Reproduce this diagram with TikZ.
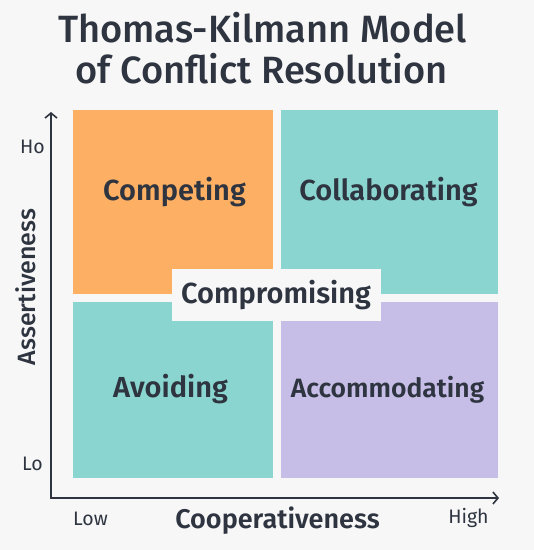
\documentclass[tikz,border=0pt]{standalone}
\usepackage{fontspec}
\setmainfont{Fira Sans}
\newfontfamily\medfont{Fira Sans Medium}
\newfontfamily\semifont{Fira Sans SemiBold}
\usetikzlibrary{arrows.meta}
\definecolor{cbg}{RGB}{247,247,247}
\definecolor{cink}{RGB}{46,52,64}
\definecolor{corange}{RGB}{253,175,99}
\definecolor{cteal}{RGB}{138,213,207}
\definecolor{cpurple}{RGB}{198,190,231}
\tikzset{tkgrid/.style={x=1pt,y=-1pt,text=cink}}
\tikzset{quad/.style={inner sep=0pt,outer sep=0pt,anchor=north west},
         qlabel/.style={anchor=base,font=\semifont\fontsize{29}{33}\selectfont},
         ticklbl/.style={anchor=base,font=\fontsize{19.5}{22}\selectfont},
         axislbl/.style={anchor=base,font=\semifont\fontsize{27}{30}\selectfont},
         axisline/.style={cink,line width=1.6pt,
           {Straight Barb[length=5pt,width=12pt]}-{Straight Barb[length=5pt,width=12pt]}}}

\begin{document}
\begin{tikzpicture}[tkgrid]
    \fill[cbg] (0,0) rectangle (534,550);
    \useasboundingbox (0,0) rectangle (534,550);
    % title
    \node[anchor=base,font=\medfont\fontsize{38}{43}\selectfont] (title1) at (262.5,42) {Thomas-Kilmann Model};
    \node[anchor=base,font=\medfont\fontsize{38}{43}\selectfont] (title2) at (261.5,83) {of Conflict Resolution};
    % quadrants
    \node[quad,fill=corange,minimum width=200pt,minimum height=184pt] (competing) at (73,110) {};
    \node[quad,fill=cteal,minimum width=217pt,minimum height=184pt] (collaborating) at (281,110) {};
    \node[quad,fill=cteal,minimum width=200pt,minimum height=176pt] (avoiding) at (73,302) {};
    \node[quad,fill=cpurple,minimum width=217pt,minimum height=176pt] (accommodating) at (281,302) {};
    \node[quad,fill=cbg,minimum width=209pt,minimum height=52pt] (compromising) at (172,269) {};
    \node[qlabel] (competinglbl) at (174.5,200) {Competing};
    \node[qlabel] (collaboratinglbl) at (388.5,200) {Collaborating};
    \node[qlabel] (avoidinglbl) at (170.5,397) {Avoiding};
    \node[qlabel,font=\semifont\fontsize{26.5}{30}\selectfont] (accommodatinglbl) at (387.5,397) {Accommodating};
    \node[qlabel] (compromisinglbl) at (276,303) {Compromising};
    % axes
    \coordinate (origin) at (51,498);
    \coordinate (ytip) at (51,112);
    \coordinate (xtip) at (499,498);
    \draw[axisline] (ytip) -- (origin) -- (xtip);
    \node[ticklbl] (ho) at (32.5,153) {Ho};
    \node[ticklbl] (lo) at (32.5,470) {Lo};
    \node[ticklbl] (low) at (90.5,525) {Low};
    \node[ticklbl] (high) at (468.5,523) {High};
    \node[axislbl] (cooplbl) at (277.5,528) {Cooperativeness};
    \node[axislbl,font=\medfont\fontsize{25}{28}\selectfont,rotate=90] (assertlbl) at (35,287) {Assertiveness};
\end{tikzpicture}
\end{document}
